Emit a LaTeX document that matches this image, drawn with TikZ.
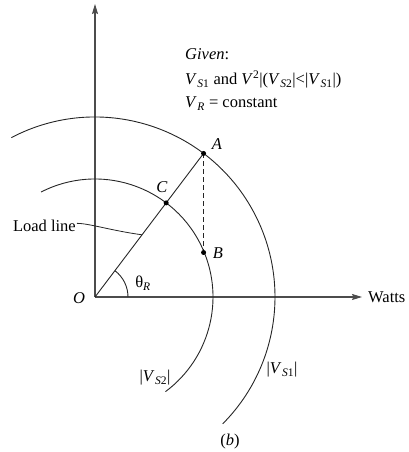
\documentclass[tikz,border=0pt]{standalone}
\usepackage{fontspec}
\setmainfont{Liberation Serif}
\usetikzlibrary{arrows.meta}
\newcommand{\Vsub}[1]{\textit{V}\kern0.5pt\textsubscript{#1}}
\begin{document}
\begin{tikzpicture}[x=1pt,y=1pt,
  lbl/.style={font=\fontsize{16.5}{19}\selectfont, inner sep=0pt},
  curve/.style={line width=0.9pt, black!85},
  axis/.style={line width=1.1pt, black!70, -{Stealth[length=10pt,width=6pt,inset=1.5pt]}},
  dot/.style={circle, fill=black, inner sep=0pt, minimum size=5pt}
]
\useasboundingbox (0,0) rectangle (408,452);
\coordinate (O) at (95,155);
\coordinate (ytop) at (95,448);
\coordinate (xend) at (362,155);
% axes
\draw[axis] (O) -- (ytop);
\draw[axis] (O) -- (xend);
% circles
\draw[curve] ([shift={(117.7:180pt)}]O) arc[start angle=117.7, end angle=-44.8, radius=180pt];
\draw[curve] ([shift={(117.2:118pt)}]O) arc[start angle=117.2, end angle=-53.3, radius=118pt];
% points
\coordinate (A) at ([shift={(52.9:180pt)}]O);
\coordinate (C) at ([shift={(52.9:118pt)}]O);
\coordinate (B) at (A |- 0,199.5);
\coordinate (L) at ([shift={(52.9:78pt)}]O);
% load line
\draw[curve] (O) -- (A);
\draw[curve, dash pattern=on 5pt off 3pt] (A) -- (B);
% angle
\draw[curve] ([shift={(0:33pt)}]O) arc[start angle=0, end angle=52.9, radius=33pt];
% dots
\node[dot] (dA) at (A) {};
\node[dot] (dB) at (B) {};
\node[dot] (dC) at (C) {};
% labels
\node[lbl] (lA) at (217,308) {\textit{A}};
\node[lbl] (lC) at (162,265) {\textit{C}};
\node[lbl] (lB) at (218,199) {\textit{B}};
\node[lbl] (lO) at (79,154) {\textit{O}};
\node[lbl] (lth) at (143,169) {θ\textsubscript{\textit{R}}};
\node[lbl, anchor=west] (watts) at (368,155) {Watts};
\node[lbl] (vs2) at (155,74) {|\Vsub{\textit{S}2}|};
\node[lbl] (vs1) at (282,82) {|\Vsub{\textit{S}1}|};
\node[lbl] (cap) at (230,10) {(\textit{b})};
\node[lbl, anchor=base east] (load) at (76,220) {Load line};
\draw[line width=0.8pt, black!85] (load.east) ++(1pt,3pt) .. controls +(12pt,0pt) and +(-30pt,4pt) .. (L);
% given block
\node[lbl, anchor=base west] (g1) at (185,392) {\textit{Given}:};
\node[lbl, anchor=base west] (g2) at (185,367) {\Vsub{\textit{S}1} and \textit{V}\textsuperscript{2}|(\Vsub{\textit{S}2}|<|\Vsub{\textit{S}1}|)};
\node[lbl, anchor=base west] (g3) at (185,344) {\Vsub{\textit{R}} = constant};
\end{tikzpicture}
\end{document}
